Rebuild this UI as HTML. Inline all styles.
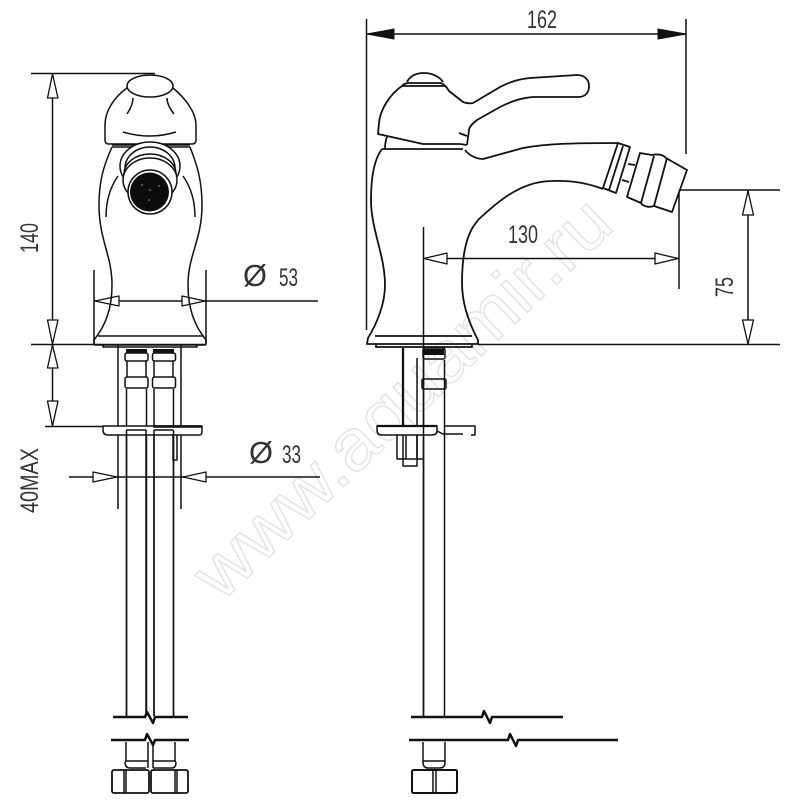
<!DOCTYPE html>
<html><head><meta charset="utf-8"><title>Bidet mixer dimensions</title>
<style>html,body{margin:0;padding:0;background:#fff}svg{display:block}
text{font-family:"Liberation Sans",sans-serif;fill:#333}
.w{font-size:72px;fill:#fff;stroke:#e4e4e4;stroke-width:1.500}
.art{filter:blur(.3px)}
</style></head><body>
<svg width="800" height="800" viewBox="0 0 800 800" xmlns="http://www.w3.org/2000/svg">
<rect width="800" height="800" fill="#fff"/>
<text class="w" x="0" y="0" textLength="545" lengthAdjust="spacingAndGlyphs" transform="translate(221,603) rotate(-43.5)">www.aquamir.ru</text>

<g class="art">
<g fill="none" stroke="#111" stroke-width="1.500" stroke-linejoin="round">
<!-- LEFT VIEW dims -->
<path d="M31 73.500H155M31 344.500H206M52.500 73V426M45 426.500H105"/>
<path d="M94 270V344M206 270V344M94 301H318M69 477H320M118 344V509M181 344V509"/>
<g fill="#fff" stroke-width="1.300">
<path d="M52.500 74L47.500 98H58Z"/><path d="M52.500 344L47.500 320H58Z"/>
<path d="M52.500 345L47.500 368H58Z"/><path d="M52.500 426L47.500 401H58Z"/>
<path d="M95 301L119 296V306Z"/><path d="M205 301L182 296V306Z"/>
<path d="M117 477L93 472V482Z"/><path d="M183 477L206 472V482Z"/>
</g>
<!-- LEFT VIEW head -->
<ellipse cx="150" cy="86" rx="23" ry="11"/>
<path d="M127 88C113 98 105 112 105 125V140Q105 144 109 144H192Q196 144 196 140V125C196 112 185 98 173 88"/>
<path d="M133 98Q133 105 127 114M167 98Q167 105 174 114M123 132Q150 140 176 132"/>
<path d="M112 147C104 165 99 180 99 205C99 240 112 255 112 285C112 308 106 325 94 340M190 147C197 165 202 180 202 205C202 240 188 255 188 285C188 308 194 325 206 340"/>
<path d="M118 176C111 186 106 200 106 217M183 176C190 186 195 200 195 217"/>
<path d="M112 145H190M112 147H190M98 336H204"/>
<path d="M94 340L94 344Q94 345 96 345H204Q206 345 206 344V340"/>
<path d="M103 345V347H197V345"/>
<ellipse cx="150" cy="166" rx="30" ry="24" fill="#fff"/>
<ellipse cx="150" cy="168" rx="25" ry="21"/>
<ellipse cx="150" cy="174" rx="26" ry="20" fill="#fff"/>
<ellipse cx="150" cy="180" rx="27" ry="22" fill="#fff"/>
<circle cx="150" cy="192" r="22" fill="#fff"/>
<circle cx="149.500" cy="192" r="19.500" fill="#0c0c0c" stroke="none"/>
<g fill="#aaa" stroke="none"><circle cx="142" cy="185" r=".8"/><circle cx="159" cy="186" r=".8"/><circle cx="150" cy="190" r=".8"/><circle cx="149" cy="200" r=".8"/></g>
<!-- LEFT lower -->
<g stroke-width="1.500">
<path d="M126.500 389V716M146.500 389V716M154 389V716M173.500 389V716"/>
<rect x="125" y="353" width="23" height="8" rx="2"/><rect x="152.500" y="353" width="23" height="8" rx="2"/>
<rect x="125" y="377" width="23" height="11" rx="2"/><rect x="152.500" y="377" width="23" height="11" rx="2"/>
<path d="M127 361V377M146 361V377M154 361V377M173 361V377"/>
<path d="M103 426H202V432Q202 435 199 435H108Q103 435 103 430Z" fill="#fff"/>
<path d="M126 430H146M154 430H173M146 430V716M154 430V716M126.500 430V716M173.500 430V716M173 435V460H177V435"/>
</g>
<path d="M126 349H147V353H126ZM153 349H174V353H153Z" fill="#111" stroke="none"/>
<path d="M153 426.500H202" stroke-width="2.400"/>
<!-- LEFT break -->
<path d="M113 717H145L147 712L153 723L155 717H188M111 740H145L147 734L153 745L155 740H189" stroke-width="2.500"/>
<g stroke-width="1.500"><path d="M126 742V762M148 742V768M153 742V768M175 742V762M125 762Q125 768 130 768H146M153 768H172Q176 768 176 762M125 761H148M153 761H176"/>
<rect x="112" y="770" width="37" height="23" rx="2" stroke-width="1.800"/><rect x="151" y="770" width="37" height="23" rx="2" stroke-width="1.800"/>
<path d="M124 770V793M126 770V793M175 770V793M177 770V793"/></g>

<!-- RIGHT VIEW dims -->
<path d="M366.500 19V330M686 19V154M367 34H686"/>
<path d="M367 34L394 29V39ZM686 34L658 29V39Z" fill="#111" stroke-width="1"/>
<path d="M423.500 227V716M424 258.500H678M679 192V289M679 190H780M478 344.500H780M748 190V344"/>
<g fill="#fff" stroke-width="1.300">
<path d="M424 258.500L447 253V264Z"/><path d="M678 258.500L655 253V264Z"/>
<path d="M748 191L742.500 215H753.500Z"/><path d="M748 344L742.500 320H753.500Z"/>
</g>
<!-- RIGHT VIEW body -->
<g stroke-width="1.800">
<path d="M402 86C390 94 380 110 379 123L378 134L423 144H460L467 145M402 86Q403 84 408 83H440C445 84 447 88 449 91L463 102Q468 104 473 103L500 87C512 81 520 79 530 78L577 75C585 75 589 80 589 86C589 93 585 97 578 97H533C520 98 510 102 500 107L477 120C472 124 469 127 469 130L467 145"/>
<path d="M407 82C410 76 416 73 424 73C432 73 440 77 443 82M402 86H445"/>
<path d="M459 133L467 136M385 149Q385 142 387 137"/>
<path d="M382 149H463M382 149C375 158 371 175 371 200C371 230 385 255 385 285C385 305 376 325 368 338L367 344H478L478 340C470 325 462 305 462 283C462 260 465 240 473 227L478 220C495 204 520 181 552 181C573 180 590 184 603 189"/>
<path d="M375 336H472M376 345V347H472V345"/>
<path d="M465 150C468 154 475 159 483 159L523 148C545 144 567 143 618 143"/>
<path d="M618 143L630 147L616 193L603 188ZM623 146L609 190"/>
<path d="M628 164L635 165M622 180L629 182"/>
<path d="M640 153L652 155Q662 153 666 158L687 170L672 212L654 206C648 208 643 206 641 203L627 197L640 153Z"/>
<path d="M654 156L641 203M667 158L654 206"/>
</g>
<!-- RIGHT lower -->
<g stroke-width="1.500">
<path d="M403 348V425" stroke-width="2.300"/>
<path d="M417 358V460M423.500 348V716M444.500 360V716"/>
<rect x="423" y="348" width="22" height="11" rx="2"/>
<rect x="422" y="379" width="24" height="10" rx="1.500"/>
<path d="M377 426H437V431Q437 435 431 435H382Q377 435 377 430Z" fill="#fff"/>
<path d="M423.500 426V436M444 426H475V435H471M437 431L443 434H463"/>
<path d="M397 435V459H423M403 435V459M406 435V459M417 435V459M403 459V466H417V459"/>
<path d="M377 426H437" stroke-width="2.300"/>
</g>
<path d="M424 349H444V355H424Z" fill="#111" stroke="none"/>
<path d="M411 717H482L484 711L490 723L492 717H563M409 740H508L510 734L516 746L518 740H618" stroke-width="2.500"/>
<g stroke-width="1.500"><path d="M423 742V762M445 742V762M423 761H445M423 762Q423 768 428 768H440Q445 768 445 762"/>
<rect x="412" y="770" width="45" height="23" rx="1.500" stroke-width="2"/>
<path d="M433 770V793M436 770V793"/></g>
</g>

<!-- Labels -->
<g font-size="25">
<text x="527" y="28" textLength="30" lengthAdjust="spacingAndGlyphs">162</text>
<text x="508" y="243" textLength="30" lengthAdjust="spacingAndGlyphs">130</text>
<text x="279" y="286" textLength="19" lengthAdjust="spacingAndGlyphs">53</text>
<text x="282" y="463" textLength="19" lengthAdjust="spacingAndGlyphs">33</text>
<text x="0" y="0" textLength="20" lengthAdjust="spacingAndGlyphs" transform="translate(733,297) rotate(-90)">75</text>
<text x="0" y="0" textLength="30" lengthAdjust="spacingAndGlyphs" transform="translate(38,253) rotate(-90)">140</text>
<text x="0" y="0" textLength="65" lengthAdjust="spacingAndGlyphs" transform="translate(38,513) rotate(-90)">40MAX</text>
<text x="243" y="286" font-size="31" textLength="24" lengthAdjust="spacingAndGlyphs">Ø</text>
<text x="249" y="463" font-size="31" textLength="24" lengthAdjust="spacingAndGlyphs">Ø</text>
</g>
</g>
</svg>
</body></html>
